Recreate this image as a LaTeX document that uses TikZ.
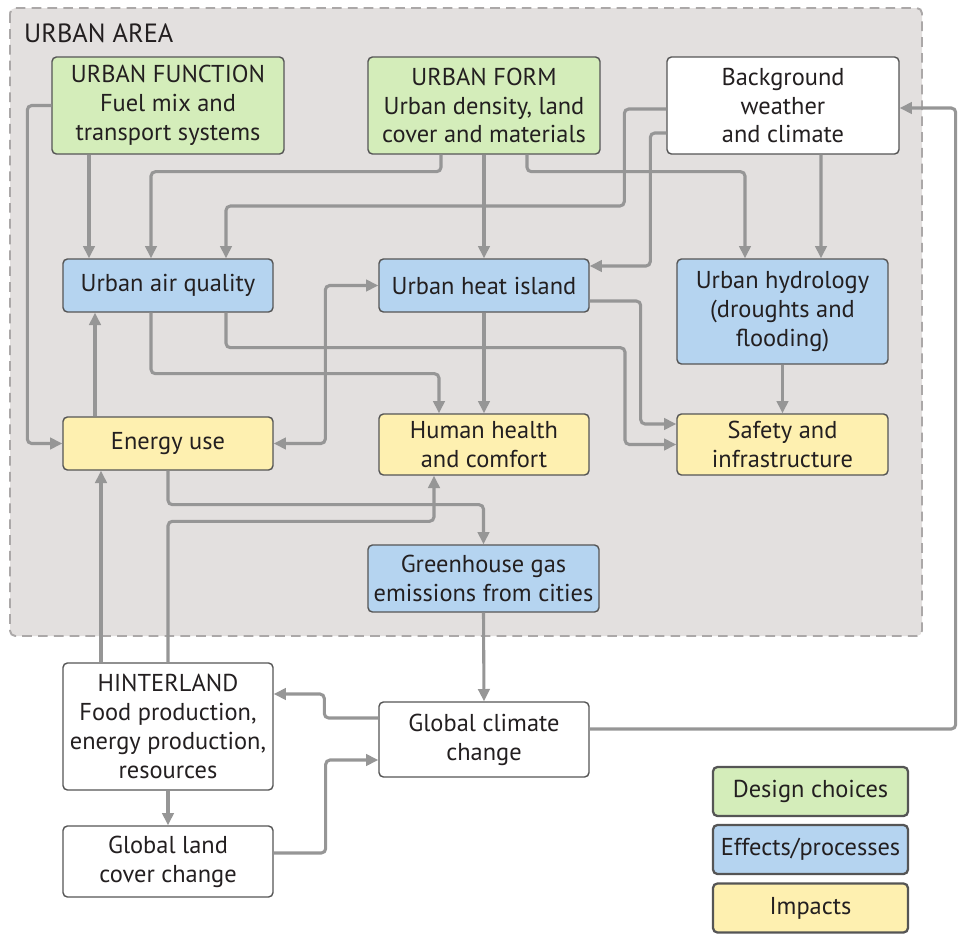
\documentclass[tikz,border=0pt]{standalone}
\usepackage{fontspec}
\setmainfont{PT Sans}
\usetikzlibrary{arrows.meta,calc}

\definecolor{txt}{HTML}{231F20}
\definecolor{edge}{HTML}{555555}
\definecolor{conn}{HTML}{969696}
\definecolor{areafill}{HTML}{E3E0DF}
\definecolor{areadash}{HTML}{ABA8A8}
\definecolor{design}{HTML}{D4EDBA}
\definecolor{effect}{HTML}{B5D4F0}
\definecolor{impact}{HTML}{FEF0B0}

\tikzset{
  box/.style={draw=edge, line width=0.8pt, rounded corners=2.5pt, align=center,
    text=txt, inner sep=1pt, font=\fontsize{13.9}{16.4}\selectfont},
  designbox/.style={box, fill=design},
  effectbox/.style={box, fill=effect},
  impactbox/.style={box, fill=impact},
  plainbox/.style={box, fill=white},
  keybox/.style={box, line width=1.3pt, minimum width=3.9cm, minimum height=0.98cm},
  arr/.style={draw=conn, line width=1.75pt, rounded corners=2.5pt,
    -{Triangle[length=7pt,width=6.5pt]}},
  arrtwo/.style={arr, {Triangle[length=7pt,width=6.5pt]}-{Triangle[length=7pt,width=6.5pt]}}
}

\begin{document}
\begin{tikzpicture}[x=0.02cm, y=-0.02cm]
\useasboundingbox (0,0) rectangle (965,937);
% urban area
\draw[draw=areadash, fill=areafill, line width=1.1pt, dash pattern=on 5.5pt off 3.5pt,
  rounded corners=3pt] (10,8) rectangle (922,636);
\node[anchor=west, text=txt, font=\fontsize{15}{18}\selectfont] (area) at (18,33) {URBAN AREA};

% top row
\node[designbox, minimum width=4.64cm, minimum height=1.94cm] (func) at (168,105.5)
  {URBAN FUNCTION\\Fuel mix and\\transport systems};
\node[designbox, minimum width=4.64cm, minimum height=1.94cm] (form) at (484,105.5)
  {URBAN FORM\\Urban density, land\\cover and materials};
\node[plainbox, minimum width=4.64cm, minimum height=1.94cm] (bg) at (783,105.5)
  {Background\\weather\\and climate};

% effects
\node[effectbox, minimum width=4.2cm, minimum height=1.06cm] (airq) at (168,285.5) {Urban air quality};
\node[effectbox, minimum width=4.2cm, minimum height=1.06cm] (heat) at (484,285.5) {Urban heat island};
\node[effectbox, minimum width=4.22cm, minimum height=2.1cm] (hydro) at (782.5,311.5)
  {Urban hydrology\\(droughts and\\flooding)};

% impacts
\node[impactbox, minimum width=4.2cm, minimum height=1.06cm] (energy) at (168,443.5) {Energy use};
\node[impactbox, minimum width=4.2cm, minimum height=1.22cm] (health) at (484,444.5)
  {Human health\\and comfort};
\node[impactbox, minimum width=4.22cm, minimum height=1.22cm] (safety) at (782.5,444.5)
  {Safety and\\infrastructure};
\node[effectbox, minimum width=4.62cm, minimum height=1.34cm] (ghg) at (483.5,578.5)
  {Greenhouse gas\\emissions from cities};

% outside the city
\node[plainbox, minimum width=4.2cm, minimum height=2.54cm] (hinter) at (168,726.5)
  {HINTERLAND\\Food production,\\energy production,\\resources};
\node[plainbox, minimum width=4.2cm, minimum height=1.5cm] (gcc) at (484,739.5)
  {Global climate\\change};
\node[plainbox, minimum width=4.2cm, minimum height=1.42cm] (land) at (168,861.5)
  {Global land\\cover change};

% key
\node[keybox, fill=design] (kdesign) at (810.5,791.5) {Design choices};
\node[keybox, fill=effect] (keffect) at (810.5,849.5) {Effects/processes};
\node[keybox, fill=impact] (kimpact) at (810.5,908) {Impacts};

% links from the top row
\draw[arr] ($(func.south)+(-79,0)$) -- ($(airq.north)+(-79,0)$);
\draw[arr] (func.west) -- ++(-24,0) |- (energy.west);
\draw[arr] ($(form.south)+(-43,0)$) -- ++(0,17) -| ($(airq.north)+(-17,0)$);
\draw[arr] (form.south) -- (heat.north);
\draw[arr] ($(form.south)+(43,0)$) -- ++(0,17) -| ($(hydro.north)+(-37.5,0)$);
\draw[arr] ($(bg.west)+(0,3.5)$) -- ++(-42,0) -- ++(0,97) -| ($(airq.north)+(58,0)$);
\draw[arr] ($(bg.west)+(0,27.5)$) -- ++(-16,0) |- ($(heat.east)+(0,-19.5)$);
\draw[arr] ($(bg.south)+(38,0)$) -- ($(hydro.north)+(38.5,0)$);

% links between effects and impacts
\draw[arr] ($(energy.north)+(-73,0)$) -- ($(airq.south)+(-73,0)$);
\draw[arrtwo] (heat.west) -- ++(-53,0) |- (energy.east);
\draw[arr] ($(airq.south)+(-17,0)$) -- ++(0,61) -| ($(health.north)+(-45,0)$);
\draw[arr] ($(airq.south)+(58,0)$) -- ++(0,35) -- ++(399,0) |- (safety.west);
\draw[arr] (heat.south) -- (health.north);
\draw[arr] ($(heat.east)+(0,15.5)$) -- ++(51,0) |- ($(safety.west)+(0,-20.5)$);
\draw[arr] (hydro.south) -- (safety.north);
\draw[arr] (energy.south) -- ++(0,34) -| (ghg.north);

% links to and from the hinterland
\draw[arr] (hinter.north) -- ++(0,-141) -| ($(health.south)+(-50,0)$);
\draw[arr] ($(hinter.north)+(-67,0)$) -- ($(energy.south)+(-67,0)$);
\draw[arr] (ghg.south) -- (gcc.north);
\draw[arr] ($(gcc.west)+(0,-21.5)$) -- ++(-54,0) |- ($(hinter.east)+(0,-32.5)$);
\draw[arr] ($(land.east)+(0,-8.5)$) -- ++(52,0) |- ($(gcc.west)+(0,20.5)$);
\draw[arr] (hinter.south) -- (land.north);
\draw[arr] ($(gcc.east)+(0,-10.5)$) -- ++(366,0) |- ($(bg.east)+(0,2.5)$);
\end{tikzpicture}
\end{document}
